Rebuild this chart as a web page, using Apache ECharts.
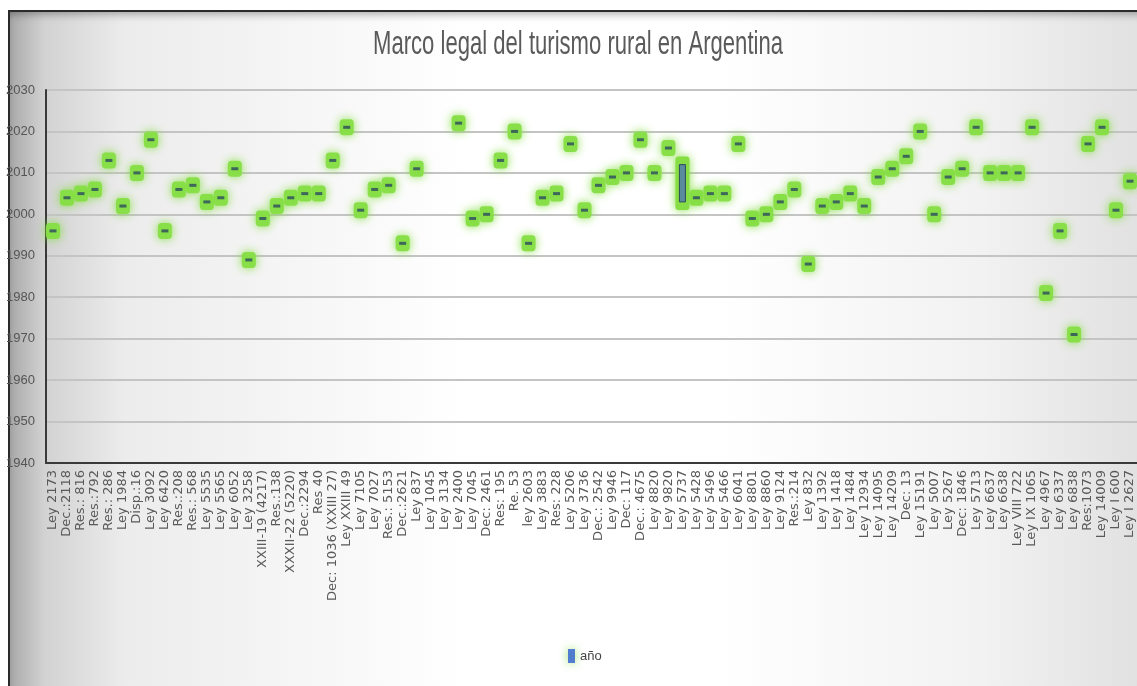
<!DOCTYPE html>
<html>
<head>
<meta charset="utf-8">
<script src="https://cdn.jsdelivr.net/npm/echarts@6/dist/echarts.min.js"></script>
<style>
  html, body { margin: 0; padding: 0; background: #ffffff; }
  #wrap { position: relative; width: 1137px; height: 686px; overflow: hidden; background: #ffffff; }
  #frame {
    position: absolute; left: 8px; top: 10px; width: 1140px; height: 690px;
    border-left: 2px solid #2a2a2a; border-top: 2px solid #2a2a2a;
    background: linear-gradient(to right, #a9a9a9 0%, #d2d2d2 3%, #ececec 10%, #ffffff 40%, #ffffff 62%, #f2f2f2 85%, #e0e0e0 100%);
    box-shadow: inset 0 6px 8px -4px rgba(0,0,0,0.35);
  }
  #chart { position: absolute; left: 0; top: 0; width: 1137px; height: 686px; }
</style>
</head>
<body>
<div id="wrap">
  <div id="frame"></div>
  <div id="chart"></div>
</div>
<script>
const titleText = 'Marco legal del turismo rural en Argentina';
const seriesName = 'año';
const categories = [
  'Ley 2173', 'Dec.:2118', 'Res.: 816', 'Res.:792', 'Res.: 286', 'Ley 1984', 'Disp.:16', 'Ley 3092',
  'Ley 6420', 'Res.:208', 'Res.: 568', 'Ley 5535', 'Ley 5565', 'Ley 6052', 'Ley 3258', 'XXIII-19 (4217)',
  'Res.:138', 'XXXII-22 (5220)', 'Dec.:2294', 'Res 40', 'Dec: 1036 (XXIII 27)', 'Ley XXIII 49', 'Ley 7105',
  'Ley 7027', 'Res.: 5153', 'Dec.:2621', 'Ley 837', 'Ley 1045', 'Ley 3134', 'Ley 2400', 'Ley 7045',
  'Dec: 2461', 'Res: 195', 'Re. 53', 'ley 2603', 'Ley 3883', 'Res: 228', 'Ley 5206', 'Ley 3736',
  'Dec.: 2542', 'Ley 9946', 'Dec: 117', 'Dec.: 4675', 'Ley 8820', 'Ley 9820', 'Ley 5737', 'Ley 5428',
  'Ley 5496', 'Ley 5466', 'Ley 6041', 'Ley 8801', 'Ley 8860', 'Ley 9124', 'Res.:214', 'Ley 832',
  'Ley 1392', 'Ley 1418', 'Ley 1484', 'Ley 12934', 'Ley 14095', 'Ley 14209', 'Dec: 13', 'Ley 15191',
  'Ley 5007', 'Ley 5267', 'Dec: 1846', 'Ley 5713', 'Ley 6637', 'Ley 6638', 'Ley VIII 722', 'Ley IX 1065',
  'Ley 4967', 'Ley 6337', 'Ley 6838', 'Res:1073', 'Ley 14009', 'Ley I 600', 'Ley I 2627'
];
const years = [
  1996, 2004, 2005, 2006, 2013, 2002, 2010, 2018,
  1996, 2006, 2007, 2003, 2004, 2011, 1989, 1999,
  2002, 2004, 2005, 2005, 2013, 2021, 2001,
  2006, 2007, 1993, 2011, null, null, 2022, 1999,
  2000, 2013, 2020, 1993, 2004, 2005, 2017, 2001,
  2007, 2009, 2010, 2018, 2010, 2016, null, 2004,
  2005, 2005, 2017, 1999, 2000, 2003, 2006, 1988,
  2002, 2003, 2005, 2002, 2009, 2011, 2014, 2020,
  2000, 2009, 2011, 2021, 2010, 2010, 2010, 2021,
  1981, 1996, 1971, 2017, 2021, 2001, 2008
];
// one law drawn as a range of years in the original
const rangeCategory = 'Ley 5737';
const rangeLow = 2003;
const rangeHigh = 2012;
const yMin = 1940, yMax = 2030, yStep = 10;

const narrow = "'Liberation Sans Narrow', 'Liberation Sans', sans-serif";
const wide = "'DejaVu Sans', Verdana, sans-serif";
const glowGreen = '#86de44';
const dashColor = '#2c4a5e';

// horizontally condensed title, as in the original picture
const titleFont = "34px 'Liberation Sans'";
const measureCtx = document.createElement('canvas').getContext('2d');
measureCtx.font = titleFont;
const titleScale = 410 / measureCtx.measureText(titleText).width;

const chart = echarts.init(document.getElementById('chart'), null, { renderer: 'canvas' });
chart.setOption({
  backgroundColor: 'transparent',
  animation: false,
  graphic: [{
    type: 'text',
    x: 578,
    y: 45,
    scaleX: titleScale,
    style: {
      text: titleText,
      font: titleFont,
      fill: '#5a5a5a',
      align: 'center',
      verticalAlign: 'middle'
    }
  }],
  legend: {
    bottom: 18,
    left: 563,
    data: [{ name: seriesName, icon: 'rect', itemStyle: { color: '#2f5fd0', shadowBlur: 10, shadowColor: glowGreen } }],
    itemWidth: 7,
    itemHeight: 14,
    itemGap: 4,
    textStyle: { fontFamily: narrow, fontSize: 13, color: '#444' }
  },
  grid: { left: 46, right: -2, top: 90, bottom: 223, containLabel: false },
  xAxis: {
    type: 'category',
    data: categories,
    boundaryGap: true,
    axisLine: { lineStyle: { color: '#3a3a3a', width: 2 } },
    axisTick: { show: false },
    axisLabel: { interval: 0, rotate: 90, fontFamily: wide, fontSize: 13, color: '#5a5a5a', margin: 7 }
  },
  yAxis: {
    type: 'value',
    min: yMin, max: yMax, interval: yStep,
    axisLine: { show: true, lineStyle: { color: '#3a3a3a', width: 2 } },
    axisTick: { show: false },
    axisLabel: {
      fontFamily: narrow, fontSize: 13, color: '#555', margin: 11,
      formatter: function (v) { return String(v); }
    },
    splitLine: { lineStyle: { color: '#c4c4c4', width: 2 } }
  },
  series: [
    {
      name: 'glow',
      type: 'scatter',
      data: years,
      symbol: 'roundRect',
      symbolSize: [14, 16],
      silent: true,
      itemStyle: { color: glowGreen, opacity: 0.95, shadowBlur: 10, shadowColor: 'rgba(130,222,60,1)' },
      z: 2
    },
    {
      name: seriesName,
      type: 'scatter',
      data: years,
      symbol: 'rect',
      symbolSize: [7, 3],
      itemStyle: { color: dashColor },
      z: 3
    },
    {
      name: 'range',
      type: 'custom',
      data: [[categories.indexOf(rangeCategory), rangeLow, rangeHigh]],
      encode: { x: 0, y: [1, 2] },
      z: 3,
      renderItem: function (params, api) {
        const lo = api.coord([api.value(0), api.value(1)]);
        const hi = api.coord([api.value(0), api.value(2)]);
        return {
          type: 'group',
          children: [
            { type: 'rect', shape: { x: lo[0] - 7, y: hi[1] - 8, width: 14, height: lo[1] - hi[1] + 16, r: 3 },
              style: { fill: glowGreen, shadowBlur: 10, shadowColor: 'rgba(130,222,60,1)' } },
            { type: 'rect', shape: { x: lo[0] - 3, y: hi[1], width: 6, height: lo[1] - hi[1] },
              style: { fill: '#5b8c9e', stroke: dashColor, lineWidth: 1 } }
          ]
        };
      }
    }
  ]
});
</script>
</body>
</html>
